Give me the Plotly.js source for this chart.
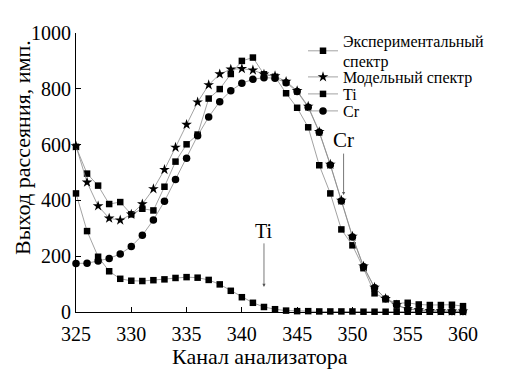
<!DOCTYPE html>
<html>
<head>
<meta charset="utf-8">
<script src="https://cdn.plot.ly/plotly-3.0.1.min.js"></script>
<style>html,body{margin:0;padding:0;background:#fff;}#chart{width:532px;height:384px;}</style>
</head>
<body>
<div id="chart"></div>
<script>
const channels = [325,326,327,328,329,330,331,332,333,334,335,336,337,338,339,340,341,342,343,344,345,346,347,348,349,350,351,352,353,354,355,356,357,358,359,360];
const experimental = [592,496,453,387,394,350,370,364,449,539,601,636,765,799,853,900,912,852,843,784,732,662,526,425,296,239,157,67,47,31,33,27,25,25,26,21];
const model = [595,465,380,336,329,350,387,441,510,590,672,752,814,853,870,872,867,852,846,826,793,737,646,529,400,271,164,88,48,25,11,7,5,4,3,3];
const ti = [425,290,198,146,119,112,111,114,117,122,125,123,115,99,76,53,33,18,10,5,3,3,2,2,2,2,1,1,1,1,1,1,1,1,1,1];
const cr = [174,175,183,192,208,235,275,330,397,475,551,632,699,754,793,820,834,840,838,822,790,734,644,527,398,269,162,87,47,24,10,6,4,3,2,2];

const names = ['Экспериментальный<br>спектр','Модельный спектр','Ti','Cr'];
const xTicks = [325,330,335,340,345,350,355,360];
const yTicks = [0,200,400,600,800,1000];
const xTitle = 'Канал анализатора';
const yTitle = 'Выход рассеяния, имп.';

const FONT = '"Liberation Serif", "Times New Roman", serif';
const lineStyle = {color:'#8a8a8a', width:0.8};

const traces = [
  {x:channels, y:experimental, name:names[0], legend:'legend', mode:'lines+markers', line:lineStyle,
   marker:{symbol:'square', size:6.5, color:'#000'}, cliponaxis:false},
  {x:channels, y:model, name:names[1], legend:'legend2', mode:'lines+markers', line:lineStyle,
   marker:{symbol:'star', size:8, color:'#000'}, cliponaxis:false},
  {x:channels, y:ti, name:names[2], legend:'legend3', mode:'lines+markers', line:lineStyle,
   marker:{symbol:'square', size:6.5, color:'#000'}, cliponaxis:false},
  {x:channels, y:cr, name:names[3], legend:'legend4', mode:'lines+markers', line:lineStyle,
   marker:{symbol:'circle', size:7.5, color:'#000'}, cliponaxis:false}
];

// plot area: x 76..463, y 33..312 in pixels
const PX = v => (v-76)/387, PY = v => 1-(v-33)/279;
function leg(py){
  return {x:PX(303), y:PY(py), xref:'paper', yref:'paper', xanchor:'left', yanchor:'middle',
    bgcolor:'rgba(0,0,0,0)', borderwidth:0, font:{family:FONT, size:16, color:'#000'}, tracegroupgap:0};
}

const layout = {
  width:532, height:384,
  margin:{l:76, r:69, t:33, b:72, pad:0},
  paper_bgcolor:'#fff', plot_bgcolor:'#fff',
  font:{family:FONT, color:'#000'},
  showlegend:true,
  legend:leg(51), legend2:leg(77), legend3:leg(94), legend4:leg(111),
  xaxis:{range:[325,360], tickvals:xTicks, ticktext:xTicks.map(String), ticks:'inside', ticklen:5, tickwidth:1,
    tickcolor:'#000', showline:true, linecolor:'#000', linewidth:1, showgrid:false, zeroline:false,
    tickfont:{family:FONT, size:20, color:'#000'}, automargin:false, ticklabelstandoff:4},
  yaxis:{range:[0,1000], tickvals:yTicks, ticktext:yTicks.map(String), ticks:'inside', ticklen:5, tickwidth:1,
    tickcolor:'#000', showline:true, linecolor:'#000', linewidth:1, showgrid:false, zeroline:false,
    tickfont:{family:FONT, size:20, color:'#000'}, automargin:false},
  annotations:[
    {x:PX(260), y:PY(356), xref:'paper', yref:'paper', text:xTitle, showarrow:false,
     xanchor:'center', yanchor:'middle', font:{family:FONT, size:22, color:'#000'}},
    {x:PX(22), y:PY(148), xref:'paper', yref:'paper', text:yTitle, showarrow:false, textangle:-90,
     xanchor:'center', yanchor:'middle', font:{family:FONT, size:22, color:'#000'}},
    {x:342, y:90, xref:'x', yref:'y', text:'Ti', showarrow:true, ax:0, ay:-56, arrowhead:2, arrowsize:0.8,
     arrowwidth:0.8, arrowcolor:'#555', font:{family:FONT, size:20, color:'#000'}},
    {x:349.2, y:419, xref:'x', yref:'y', text:'Cr', showarrow:true, ax:0, ay:-55, arrowhead:2, arrowsize:0.8,
     arrowwidth:0.8, arrowcolor:'#555', font:{family:FONT, size:21, color:'#000'}}
  ]
};

Plotly.newPlot('chart', traces, layout, {staticPlot:true, displayModeBar:false});
</script>
</body>
</html>
